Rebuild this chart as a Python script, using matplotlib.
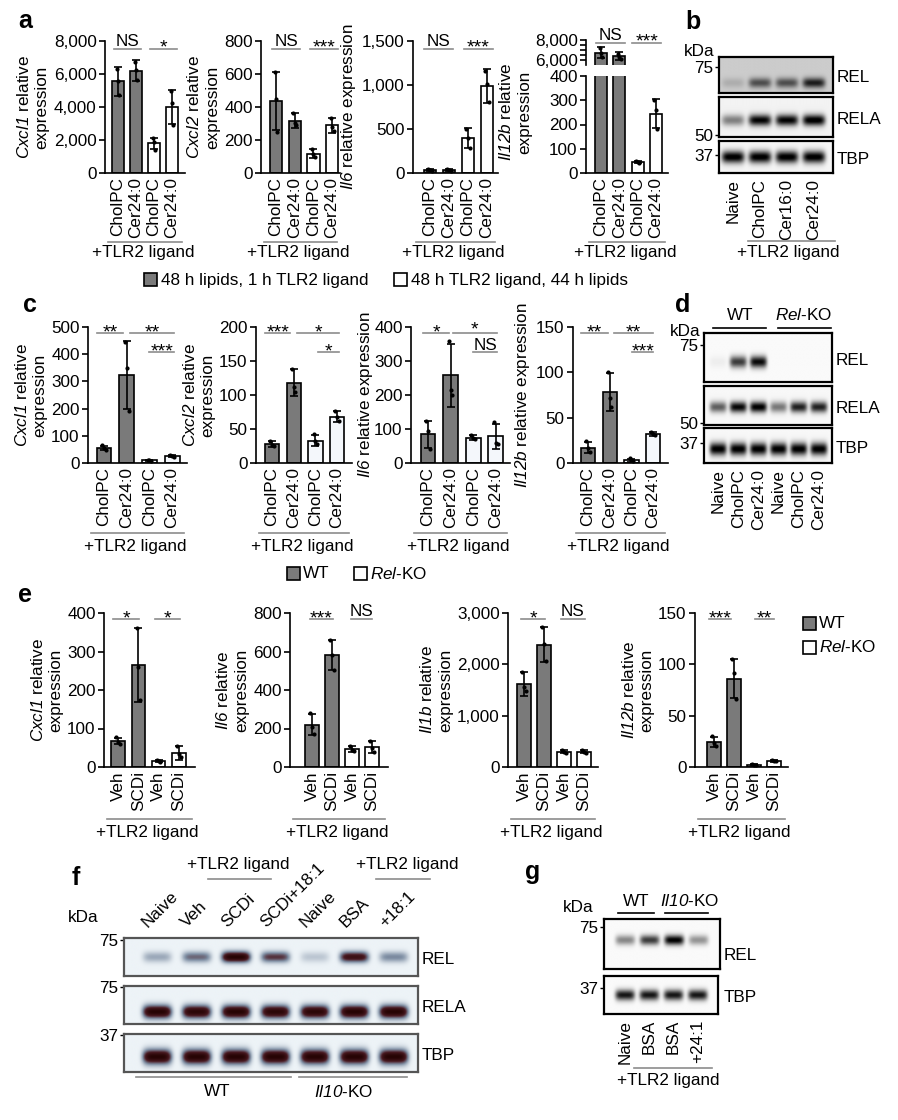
import matplotlib
matplotlib.use("Agg")
import matplotlib.pyplot as plt
import numpy as np
from matplotlib.lines import Line2D
from matplotlib.patches import Rectangle
from matplotlib.colors import LinearSegmentedColormap
from matplotlib.transforms import ScaledTranslation

plt.rcParams['font.family'] = ['Liberation Sans', 'DejaVu Sans']
plt.rcParams['mathtext.fontset'] = 'custom'
# math is only used for italic gene names, so digits go italic too
plt.rcParams['mathtext.rm'] = 'Liberation Sans:italic'
plt.rcParams['mathtext.it'] = 'Liberation Sans:italic'
plt.rcParams['font.size'] = 12

W, H = 898, 1120
GRAY = '#7a7a7a'
LINE_GRAY = '#8c8c8c'
FS = 12.3

# ---------------- data ----------------
# panel a: 48 h lipids/1 h TLR2 (gray) vs 48 h TLR2/44 h lipids (white)
a_groups = ['CholPC', 'Cer24:0', 'CholPC', 'Cer24:0']
a_cxcl1 = [5550, 6200, 1800, 4000]
a_cxcl1_sd = [900, 620, 350, 1050]
a_cxcl1_pts = [[6300, 5550, 4700], [6750, 6250, 5650], [2150, 1850, 1400], [5000, 4250, 2900]]
a_cxcl2 = [435, 318, 118, 288]
a_cxcl2_sd = [175, 45, 25, 45]
a_cxcl2_pts = [[610, 450, 250], [365, 305, 290], [145, 115, 100], [335, 280, 255]]
a_il6 = [30, 35, 395, 990]
a_il6_sd = [10, 10, 115, 190]
a_il6_pts = [[40, 30, 20], [45, 35, 25], [505, 400, 280], [1160, 1010, 810]]
a_il12b = [6750, 6380, 45, 245]
a_il12b_sd = [550, 380, 3, 60]
a_il12b_pts = [[7200, 6700, 6350], [6650, 6350, 6150], [48, 45, 43], [300, 260, 180]]

# panel c: WT (gray) vs Rel-KO (white)
c_groups = ['CholPC', 'Cer24:0', 'CholPC', 'Cer24:0']
c_cxcl1 = [55, 322, 10, 25]
c_cxcl1_sd = [8, 125, 2, 3]
c_cxcl1_pts = [[65, 55, 48], [445, 350, 190], [12, 10, 9], [28, 25, 23]]
c_cxcl2 = [28, 118, 33, 68]
c_cxcl2_sd = [5, 20, 8, 8]
c_cxcl2_pts = [[33, 27, 25], [138, 112, 105], [42, 33, 28], [76, 68, 62]]
c_il6 = [85, 258, 75, 78]
c_il6_sd = [40, 92, 8, 38]
c_il6_pts = [[125, 95, 40], [360, 215, 200], [82, 75, 70], [120, 60, 55]]
c_il12b = [17, 78, 3, 32]
c_il12b_sd = [6, 21, 1.5, 2]
c_il12b_pts = [[24, 17, 12], [100, 72, 62], [5, 3, 2], [34, 32, 31]]

# panel e: WT (gray) vs Rel-KO (white), vehicle vs SCD inhibitor
e_groups = ['Veh', 'SCDi', 'Veh', 'SCDi']
e_cxcl1 = [67, 265, 15, 37]
e_cxcl1_sd = [8, 95, 3, 18]
e_cxcl1_pts = [[77, 65, 60], [360, 260, 175], [18, 15, 13], [55, 35, 25]]
e_il6 = [220, 580, 95, 105]
e_il6_sd = [55, 78, 15, 30]
e_il6_pts = [[280, 210, 170], [660, 580, 505], [110, 90, 85], [135, 100, 80]]
e_il1b = [1620, 2380, 300, 300]
e_il1b_sd = [230, 340, 35, 35]
e_il1b_pts = [[1850, 1550, 1480], [2730, 2400, 2060], [330, 290, 280], [330, 300, 270]]
e_il12b = [24, 86, 2, 6]
e_il12b_sd = [5, 19, 0.5, 0.8]
e_il12b_pts = [[30, 23, 20], [105, 92, 66], [2.5, 2, 1.8], [6.5, 6, 5.5]]

fills = [GRAY, GRAY, 'white', 'white']
c_fills = [GRAY, GRAY, '#f4f7fb', '#f4f7fb']

# western blot band intensities (0 = none, 1 = saturated)
b_lanes = ['Naive', 'CholPC', 'Cer16:0', 'Cer24:0']
b_rel = [0.12, 0.5, 0.5, 0.7]
b_rela = [0.45, 0.95, 0.95, 1.0]
b_tbp = [1.0, 1.0, 1.0, 1.0]
d_lanes = ['Naive', 'CholPC', 'Cer24:0', 'Naive', 'CholPC', 'Cer24:0']
d_rel = [0.05, 0.75, 0.95, 0.0, 0.0, 0.0]
d_rela = [0.6, 0.95, 1.0, 0.5, 0.85, 0.85]
d_tbp = [1.0, 1.0, 1.0, 1.0, 1.0, 1.0]
f_lanes = ['Naive', 'Veh', 'SCDi', 'SCDi+18:1', 'Naive', 'BSA', '+18:1']
f_rel = [0.25, 0.45, 1.0, 0.6, 0.15, 0.8, 0.35]
f_rela = [1.0, 0.95, 1.0, 0.95, 0.95, 1.0, 1.0]
f_tbp = [1.0, 1.0, 1.0, 1.0, 1.0, 1.0, 1.0]
g_lanes = ['Naive', 'BSA', 'BSA', '+24:1']
g_rel = [0.45, 0.75, 1.0, 0.4]
g_tbp = [0.9, 0.9, 0.9, 0.9]

fig = plt.figure(figsize=(W / 100, H / 100), dpi=100)


def add_ax(x0, y0, x1, y1):
    return fig.add_axes([x0 / W, 1 - y1 / H, (x1 - x0) / W, (y1 - y0) / H])


def ftext(x, y, s, **kw):
    kw.setdefault('fontsize', FS)
    fig.text(x / W, 1 - y / H, s, **kw)


def fline(x0, x1, y, color=LINE_GRAY, lw=1.2):
    fig.add_artist(Line2D([x0 / W, x1 / W], [1 - y / H, 1 - y / H], color=color, lw=lw))


def comma(v):
    return '{:,.0f}'.format(v)


def bars(ax, vals, sds, pts, colors):
    xs = np.arange(len(vals))
    ax.bar(xs, vals, 0.66, color=colors, edgecolor='black', lw=1.2, zorder=2)
    ax.errorbar(xs, vals, yerr=sds, fmt='none', ecolor='black', elinewidth=1.2,
                capsize=3, capthick=1.2, zorder=3)
    for x, p in zip(xs, pts):
        ax.scatter(x + np.array([-0.08, 0.0, 0.08]), p, s=9, color='black', zorder=4, lw=0)


def style_ax(ax, labels, yticks, ylim):
    for s in ['top', 'right']:
        ax.spines[s].set_visible(False)
    for s in ['left', 'bottom']:
        ax.spines[s].set_linewidth(1.2)
    ax.set_ylim(ylim)
    ax.set_yticks(yticks)
    ax.set_yticklabels([comma(t) for t in yticks])
    ax.set_xticks(np.arange(len(labels)))
    ax.set_xticklabels(labels, rotation=90)
    ax.tick_params(axis='x', length=0, pad=3, labelsize=FS)
    ax.tick_params(axis='y', length=4, width=1.2, pad=2, labelsize=FS)


def sig(ax, x0, x1, frac, label, dy=None):
    ax.plot([x0, x1], [frac, frac], color=LINE_GRAY, lw=1.2, clip_on=False,
            transform=ax.get_xaxis_transform())
    xm = (x0 + x1) / 2
    star = '*' in label
    if dy is None:
        dy = -4 if star else 3
    ax.annotate(label, (xm, frac), xycoords=ax.get_xaxis_transform(), xytext=(0, dy),
                textcoords='offset pixels', ha='center', va='baseline',
                fontsize=14 if star else FS)


def chart(box, bar0, sp, vals, sds, pts, colors, labels, yticks, ylim, ylabel,
          brackets, row_line, label_xy=None):
    left, top, right, zero = box
    ax = add_ax(left, top, right, zero)
    bars(ax, vals, sds, pts, colors)
    style_ax(ax, labels, yticks, ylim)
    ax.set_xlim((left - bar0) / sp, (right - bar0) / sp)
    ax.set_ylabel(ylabel, fontsize=FS, labelpad=3)
    if label_xy is not None:
        ax.yaxis.set_label_coords(*label_xy)
    for br in brackets:
        sig(ax, *br)
    ly, ty = row_line
    fline(left + 3, right - 3, ly)
    ftext((left + right) / 2 - 2, ty, '+TLR2 ligand', ha='center', va='center')
    return ax


# ---------------- panel a ----------------
ra = (242, 252)
chart((105, 41, 185, 173), 118, 18, a_cxcl1, a_cxcl1_sd, a_cxcl1_pts, fills, a_groups,
      [0, 2000, 4000, 6000, 8000], (0, 8000), '$\\mathit{Cxcl1}$ relative\nexpression',
      [(-0.2, 1.3, 0.94, 'NS'), (1.8, 3.3, 0.94, '*')], ra)
chart((261, 41, 340, 173), 276, 18.7, a_cxcl2, a_cxcl2_sd, a_cxcl2_pts, fills, a_groups,
      [0, 200, 400, 600, 800], (0, 800), '$\\mathit{Cxcl2}$ relative\nexpression',
      [(-0.2, 1.3, 0.94, 'NS'), (1.8, 3.3, 0.94, '***')], ra)
chart((413, 41, 498, 173), 430, 19, a_il6, a_il6_sd, a_il6_pts, fills, a_groups,
      [0, 500, 1000, 1500], (0, 1500), '$\\mathit{Il6}$ relative expression',
      [(-0.3, 1.2, 0.94, 'NS'), (1.8, 3.3, 0.94, '***')], ra)

# Il12b broken axis
lo = chart((586, 76, 668, 173), 601, 18.3, a_il12b, a_il12b_sd, a_il12b_pts, fills, a_groups,
           [0, 100, 200, 300, 400], (0, 400), '$\\mathit{Il12b}$ relative\nexpression',
           [], ra, label_xy=(-0.66, 0.63))
up = add_ax(586, 40, 668, 65)
bars(up, a_il12b, a_il12b_sd, a_il12b_pts, fills)
up.set_xlim(lo.get_xlim())
up.set_ylim(5500, 8000)
up.set_yticks([6000, 6500, 7000, 7500, 8000])
up.set_yticklabels(['6,000', '', '', '', '8,000'])
up.set_xticks([])
for s in ['top', 'right', 'bottom']:
    up.spines[s].set_visible(False)
up.spines['left'].set_linewidth(1.2)
up.tick_params(axis='y', length=4, width=1.2, pad=2, labelsize=FS)
sig(up, -0.3, 1.3, 0.9, 'NS')
sig(up, 1.7, 3.3, 0.9, '***')

# legend a
for x, col, lab in [(144, GRAY, '48 h lipids, 1 h TLR2 ligand'),
                    (394, 'white', '48 h TLR2 ligand, 44 h lipids')]:
    fig.add_artist(Rectangle((x / W, 1 - 286 / H), 13 / W, 13 / H, facecolor=col,
                             edgecolor='black', lw=1.2, transform=fig.transFigure))
    ftext(x + 17, 280, lab, ha='left', va='center')

# ---------------- panel c ----------------
rc = (533, 546)
chart((88, 327, 187, 463), 104, 22.7, c_cxcl1, c_cxcl1_sd, c_cxcl1_pts, c_fills, c_groups,
      [0, 100, 200, 300, 400, 500], (0, 500), '$\\mathit{Cxcl1}$ relative\nexpression',
      [(-0.3, 0.85, 0.956, '**'), (1.15, 3.1, 0.956, '**'), (2.0, 3.1, 0.816, '***')], rc)
chart((256, 327, 352, 463), 272, 21.7, c_cxcl2, c_cxcl2_sd, c_cxcl2_pts, c_fills, c_groups,
      [0, 50, 100, 150, 200], (0, 200), '$\\mathit{Cxcl2}$ relative\nexpression',
      [(-0.3, 0.85, 0.956, '***'), (1.15, 3.1, 0.956, '*'), (2.1, 3.1, 0.816, '*')], rc)
chart((411, 327, 510, 463), 428, 22.6, c_il6, c_il6_sd, c_il6_pts, c_fills, c_groups,
      [0, 100, 200, 300, 400], (0, 400), '$\\mathit{Il6}$ relative expression',
      [(-0.2, 0.95, 0.956, '*'), (1.1, 3.05, 0.956, '*', -1), (2.0, 3.05, 0.816, 'NS', 2)], rc,
      label_xy=(-0.36, 0.5))
chart((573, 327, 668, 463), 588, 21.7, c_il12b, c_il12b_sd, c_il12b_pts, c_fills, c_groups,
      [0, 50, 100, 150], (0, 150), '$\\mathit{Il12b}$ relative expression',
      [(-0.3, 0.9, 0.956, '**'), (1.2, 3.0, 0.956, '**'), (2.05, 3.0, 0.816, '***')], rc)

for x, col, lab in [(287, GRAY, 'WT'), (354, 'white', '$\\mathit{Rel}$-KO')]:
    fig.add_artist(Rectangle((x / W, 1 - 580 / H), 13 / W, 13 / H, facecolor=col,
                             edgecolor='black', lw=1.2, transform=fig.transFigure))
    ftext(x + 16, 574, lab, ha='left', va='center')

# ---------------- panel e ----------------
re_ = (819, 833)
chart((104, 613, 195, 767), 118, 20.3, e_cxcl1, e_cxcl1_sd, e_cxcl1_pts, fills, e_groups,
      [0, 100, 200, 300, 400], (0, 400), '$\\mathit{Cxcl1}$ relative\nexpression',
      [(-0.25, 1.05, 0.96, '*'), (1.8, 3.05, 0.96, '*')], re_)
chart((290, 613, 388, 767), 312, 20, e_il6, e_il6_sd, e_il6_pts, fills, e_groups,
      [0, 200, 400, 600, 800], (0, 800), '$\\mathit{Il6}$ relative\nexpression',
      [(-0.1, 1.05, 0.96, '***'), (1.95, 3.0, 0.96, 'NS')], re_)
chart((508, 613, 598, 767), 524, 20, e_il1b, e_il1b_sd, e_il1b_pts, fills, e_groups,
      [0, 1000, 2000, 3000], (0, 3000), '$\\mathit{Il1b}$ relative\nexpression',
      [(-0.15, 1.05, 0.96, '*'), (1.85, 3.05, 0.96, 'NS')], re_)
chart((695, 613, 788, 767), 714, 20, e_il12b, e_il12b_sd, e_il12b_pts, fills, e_groups,
      [0, 50, 100, 150], (0, 150), '$\\mathit{Il12b}$ relative\nexpression',
      [(-0.25, 0.85, 0.96, '***'), (2.05, 3.0, 0.96, '**')], re_)

for y, col, lab in [(623, GRAY, 'WT'), (647, 'white', '$\\mathit{Rel}$-KO')]:
    fig.add_artist(Rectangle((803 / W, 1 - (y + 7) / H), 13 / W, 13 / H, facecolor=col,
                             edgecolor='black', lw=1.2, transform=fig.transFigure))
    ftext(819, y, lab, ha='left', va='center')


# ---------------- blots ----------------
def blot(box, first, sp, intens, band_y, band_h, half_w, bg, cmap, marker=None, name=None):
    x0p, y0p, x1p, y1p = box
    ax = add_ax(x0p, y0p, x1p, y1p)
    xa, xb = (x0p - first) / sp, (x1p - first) / sp
    X, Y = np.meshgrid(np.linspace(xa, xb, 400), np.linspace(0, 1, 120))
    img = np.full(X.shape, bg)
    for i, v in enumerate(intens):
        img = img + v * np.exp(-np.abs((X - i) / half_w) ** 5) * np.exp(-((Y - band_y) / band_h) ** 2)
    ax.imshow(np.clip(img, 0, 1), extent=(xa, xb, 1, 0), aspect='auto', cmap=cmap,
              vmin=0, vmax=1, interpolation='bilinear')
    ax.set_xlim(xa, xb)
    ax.set_ylim(1, 0)
    for s in ax.spines.values():
        s.set_linewidth(1.6)
    ax.set_xticks([])
    if marker is not None:
        ax.set_yticks([marker[0]])
        ax.set_yticklabels([marker[1]])
        ax.tick_params(axis='y', length=3, width=1, pad=1, labelsize=FS)
    else:
        ax.set_yticks([])
    if name is not None:
        ftext(x1p + 4, (y0p + y1p) / 2 + 3, name, ha='left', va='center')
    return ax


def lane_labels(ax, labels):
    ax.set_xticks(np.arange(len(labels)))
    ax.set_xticklabels(labels, rotation=90)
    ax.tick_params(axis='x', length=0, pad=4, labelsize=FS)


gray_cmap = plt.get_cmap('gray_r')
f_cmap = LinearSegmentedColormap.from_list('scan', ['#edf3f7', '#7f8fa4', '#4a1a22', '#260404'])

# panel b
blot((719, 57, 833, 93), 733, 27, b_rel, 0.72, 0.14, 0.42, 0.2, gray_cmap, (0.28, '75'), 'REL')
blot((719, 97, 833, 137), 733, 27, b_rela, 0.58, 0.14, 0.42, 0.05, gray_cmap, (0.95, '50'), 'RELA')
axb = blot((719, 141, 833, 173), 733, 27, b_tbp, 0.5, 0.19, 0.42, 0.04, gray_cmap, (0.44, '37'), 'TBP')
lane_labels(axb, b_lanes)
ftext(699, 51, 'kDa', ha='center', va='center')
fline(748, 835, 241)
ftext(788, 253, '+TLR2 ligand', ha='center', va='center')

# panel d
blot((704, 333, 832, 382), 718, 20.2, d_rel, 0.59, 0.12, 0.42, 0.02, gray_cmap, (0.245, '75'), 'REL')
blot((704, 386, 832, 425), 718, 20.2, d_rela, 0.54, 0.14, 0.42, 0.03, gray_cmap, (0.95, '50'), 'RELA')
axd = blot((704, 428, 832, 463), 718, 20.2, d_tbp, 0.6, 0.18, 0.42, 0.03, gray_cmap, (0.43, '37'), 'TBP')
lane_labels(axd, d_lanes)
ftext(685, 331, 'kDa', ha='center', va='center')
fline(713, 766, 328, color='black')
fline(778, 831, 328, color='black')
ftext(740, 315, 'WT', ha='center', va='center')
ftext(804, 315, '$\\mathit{Rel}$-KO', ha='center', va='center')

# panel f
axf = blot((124, 938, 418, 976), 157, 39.5, f_rel, 0.5, 0.14, 0.36, 0.0, f_cmap, (0.05, '75'), 'REL')
blot((124, 986, 418, 1024), 157, 39.5, f_rela, 0.68, 0.17, 0.36, 0.0, f_cmap, (0.03, '75'), 'RELA')
blot((124, 1034, 418, 1072), 157, 39.5, f_tbp, 0.6, 0.19, 0.36, 0.0, f_cmap, (0.03, '37'), 'TBP')
for ax_ in fig.axes[-3:]:
    for s in ax_.spines.values():
        s.set_color('#555555')
axf.xaxis.tick_top()
axf.set_xticks(np.arange(len(f_lanes)))
axf.set_xticklabels(f_lanes, rotation=45, ha='left', rotation_mode='anchor')
axf.tick_params(axis='x', length=0, pad=6, labelsize=FS)
for lab in axf.get_xticklabels():
    lab.set_transform(lab.get_transform() + ScaledTranslation(-0.07, 0, fig.dpi_scale_trans))
ftext(83, 917, 'kDa', ha='center', va='center')
ftext(238, 865, '+TLR2 ligand', ha='center', va='center')
fline(208, 271, 879)
ftext(407, 865, '+TLR2 ligand', ha='center', va='center')
fline(376, 430, 879)
fline(136, 291, 1077)
fline(299, 407, 1077)
ftext(217, 1092, 'WT', ha='center', va='center')
ftext(344, 1092, '$\\mathit{Il10}$-KO', ha='center', va='center')

# panel g
blot((604, 919, 720, 969), 625, 24.3, g_rel, 0.42, 0.1, 0.4, 0.02, gray_cmap, (0.16, '75'), None)
ftext(724, 955, 'REL', ha='left', va='center')
axg = blot((604, 976, 718, 1014), 625, 24.3, g_tbp, 0.5, 0.14, 0.4, 0.02, gray_cmap, (0.32, '37'), None)
ftext(724, 997, 'TBP', ha='left', va='center')
lane_labels(axg, g_lanes)
ftext(578, 908, 'kDa', ha='center', va='center')
fline(618, 654, 913, color='black')
fline(665, 708, 913, color='black')
ftext(636, 901, 'WT', ha='center', va='center')
ftext(690, 901, '$\\mathit{Il10}$-KO', ha='center', va='center')
fline(634, 712, 1068)
ftext(668, 1080, '+TLR2 ligand', ha='center', va='center')

# panel letters
for x, y, s in [(18, 28, 'a'), (685, 29, 'b'), (23, 312, 'c'), (675, 312, 'd'),
                (18, 602, 'e'), (72, 885, 'f'), (525, 879, 'g')]:
    ftext(x, y, s, ha='left', va='baseline', fontsize=18, fontweight='bold')

fig.savefig('out.png', dpi=100)
